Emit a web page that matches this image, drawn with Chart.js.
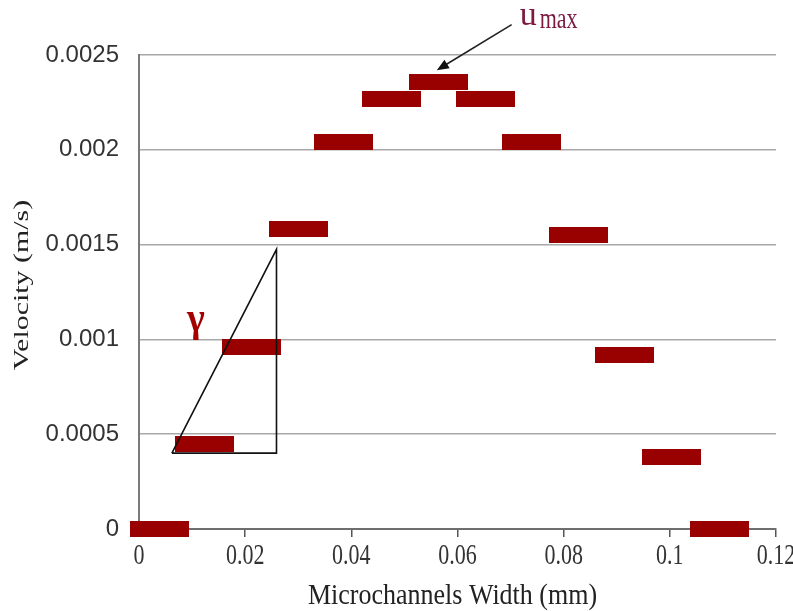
<!DOCTYPE html>
<html>
<head>
<meta charset="utf-8">
<script src="https://cdn.jsdelivr.net/npm/chart.js@4.4.1/dist/chart.umd.min.js"></script>
<style>
  html, body { margin: 0; padding: 0; background: #fff; }
  #caixa { width: 793px; height: 611px; }
</style>
</head>
<body>
<div id="caixa"><canvas id="grafico"></canvas></div>
<script>
// perfil de velocidade ao longo da largura do microcanal
const largura = [0.0039, 0.0123, 0.0212, 0.0300, 0.0386, 0.0475, 0.0565, 0.0653, 0.0740, 0.0828, 0.0915, 0.1004, 0.1093];
const velocidade = [0, 0.00045, 0.00096, 0.00158, 0.00204, 0.00227, 0.00236, 0.00227, 0.00204, 0.00155, 0.00092, 0.00038, 0];

const ticksX = [0, 0.02, 0.04, 0.06, 0.08, 0.1, 0.12];
const ticksY = [0, 0.0005, 0.001, 0.0015, 0.002, 0.0025];

// triângulo do gradiente (gamma) e seta do u_max, em coordenadas dos eixos
const triangulo = [[0.0062, 0.0004], [0.0259, 0.0004], [0.0259, 0.001475], [0.0062, 0.0004]];
const setaInicio = [0.0702, 0.00266];
const setaFim = [0.0561, 0.00242];
const posGamma = [0.0107, 0.0011];

const VERMELHO = '#990000';

function marcador(w, h, cor) {
  const c = document.createElement('canvas');
  c.width = w;
  c.height = h;
  const g = c.getContext('2d');
  g.fillStyle = cor;
  g.fillRect(0, 0, w, h);
  return c;
}

// texto com escala separada em x e y (fonte do original é esticada)
function texto(ctx, str, x, y, fonte, cor, opc) {
  opc = opc || {};
  ctx.save();
  ctx.translate(x, y);
  ctx.rotate(opc.ang || 0);
  ctx.scale(opc.sx || 1, opc.sy || 1);
  ctx.font = fonte;
  ctx.fillStyle = cor;
  ctx.textAlign = opc.alinhar || 'center';
  ctx.textBaseline = opc.base || 'middle';
  ctx.fillText(str, 0, 0);
  ctx.restore();
}

const anotacoes = {
  id: 'anotacoes',
  afterDatasetsDraw(chart) {
    const ctx = chart.ctx;
    const sx = chart.scales.x, sy = chart.scales.y;

    // rótulos do eixo x
    ticksX.forEach(v => {
      texto(ctx, String(v), sx.getPixelForValue(v), 556, '22px "Liberation Serif"', '#333', { sy: 1.3 });
    });

    // γ
    texto(ctx, 'γ', sx.getPixelForValue(posGamma[0]), sy.getPixelForValue(posGamma[1]),
      'bold 38px "Liberation Serif"', '#a50000', { sy: 1.05 });

    // seta apontando para o máximo
    const x0 = sx.getPixelForValue(setaInicio[0]), y0 = sy.getPixelForValue(setaInicio[1]);
    const x1 = sx.getPixelForValue(setaFim[0]), y1 = sy.getPixelForValue(setaFim[1]);
    const a = Math.atan2(y1 - y0, x1 - x0);
    ctx.save();
    ctx.strokeStyle = '#222';
    ctx.fillStyle = '#111';
    ctx.lineWidth = 1.6;
    ctx.beginPath();
    ctx.moveTo(x0, y0);
    ctx.lineTo(x1 - 9 * Math.cos(a), y1 - 9 * Math.sin(a));
    ctx.stroke();
    ctx.beginPath();
    ctx.moveTo(x1, y1);
    ctx.lineTo(x1 - 12 * Math.cos(a) + 5 * Math.sin(a), y1 - 12 * Math.sin(a) - 5 * Math.cos(a));
    ctx.lineTo(x1 - 12 * Math.cos(a) - 5 * Math.sin(a), y1 - 12 * Math.sin(a) + 5 * Math.cos(a));
    ctx.closePath();
    ctx.fill();
    ctx.restore();

    // rótulo u_max
    texto(ctx, 'u', x0 + 8, y0, '34px "Liberation Serif"', '#7d1840', { alinhar: 'left', base: 'alphabetic' });
    texto(ctx, 'max', x0 + 28, y0 + 3, '22px "Liberation Serif"', '#7d1840', { alinhar: 'left', base: 'alphabetic', sy: 1.3 });

    // títulos dos eixos
    texto(ctx, 'Microchannels Width (mm)', (chart.chartArea.left + chart.chartArea.right) / 2 - 5, 596,
      '25px "Liberation Serif"', '#222', { sx: 1.04, sy: 1.15 });
    texto(ctx, 'Velocity (m/s)', 22, 285,
      '22px "Liberation Serif"', '#222', { ang: -Math.PI / 2, sx: 1.36 });
  }
};

const ctx = document.getElementById('grafico').getContext('2d');

const grafico = new Chart(ctx, {
  type: 'scatter',
  data: {
    datasets: [
      {
        label: 'gamma',
        data: triangulo.map(p => ({ x: p[0], y: p[1] })),
        showLine: true,
        borderColor: '#111',
        borderWidth: 1.6,
        pointRadius: 0,
        fill: false,
        tension: 0,
        clip: false,
        order: 0
      },
      {
        label: 'Velocity',
        data: largura.map((x, i) => ({ x: x, y: velocidade[i] })),
        pointStyle: marcador(59, 16, VERMELHO),
        pointRadius: 8,
        clip: false,
        order: 1
      }
    ]
  },
  options: {
    animation: false,
    responsive: true,
    maintainAspectRatio: false,
    events: [],
    layout: { padding: { top: 55, right: 17, left: 0, bottom: 0 } },
    plugins: {
      legend: { display: false },
      tooltip: { enabled: false }
    },
    scales: {
      x: {
        type: 'linear',
        min: 0,
        max: 0.12,
        afterBuildTicks: s => { s.ticks = ticksX.map(v => ({ value: v })); },
        afterFit: s => { s.height = 82; s.paddingLeft = 0; s.paddingRight = 0; },
        ticks: { display: false },
        grid: {
          drawOnChartArea: false,
          drawTicks: true,
          tickLength: 8,
          tickColor: '#555',
          lineWidth: 1.5
        },
        border: { display: true, color: '#6e6e6e', width: 2 }
      },
      y: {
        min: 0,
        max: 0.0025,
        afterBuildTicks: s => { s.ticks = ticksY.map(v => ({ value: v })); },
        afterFit: s => { s.width = 139; s.paddingTop = 0; s.paddingBottom = 0; },
        ticks: {
          callback: v => String(v),
          color: '#333',
          padding: 20,
          font: { family: '"Liberation Sans"', size: 24 }
        },
        grid: {
          drawTicks: false,
          color: '#a8a8a8',
          lineWidth: 1.5
        },
        border: { display: true, color: '#7a7a7a', width: 2 }
      }
    }
  },
  plugins: [anotacoes]
});
</script>
</body>
</html>
